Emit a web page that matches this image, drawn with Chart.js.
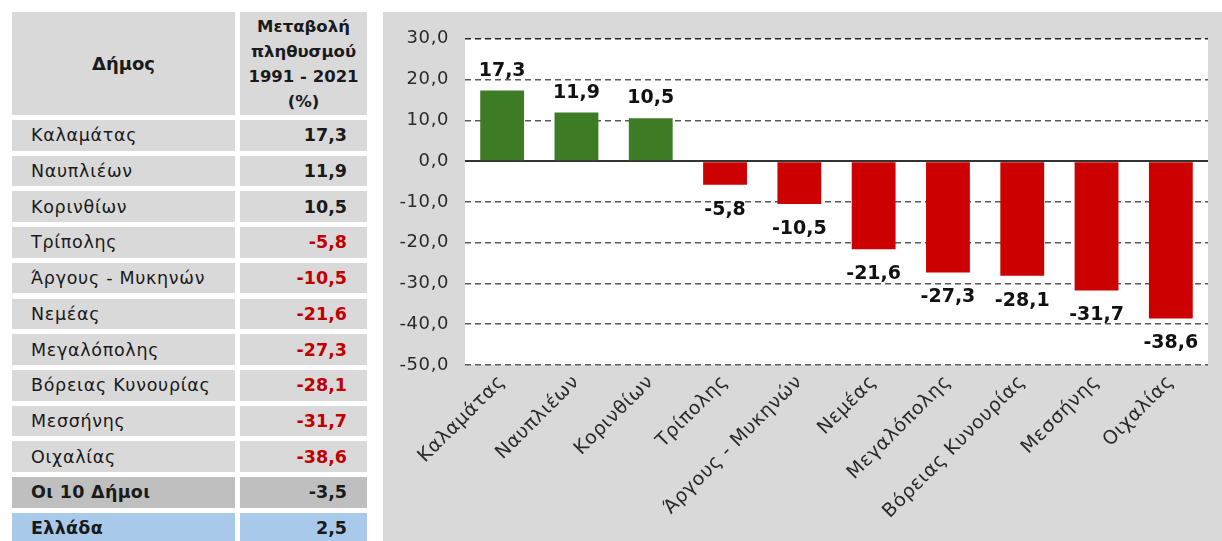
<!DOCTYPE html>
<html><head><meta charset="utf-8">
<script src="https://cdn.jsdelivr.net/npm/chart.js@4.4.1/dist/chart.umd.min.js"></script>
<style>
html,body{margin:0;padding:0;background:#fff;width:1222px;height:541px;overflow:hidden;font-family:'DejaVu Sans',sans-serif;}
.cell{position:absolute;background:#d9d9d9;box-sizing:border-box;display:flex;align-items:center;font-size:17.5px;color:#1a1a1a;white-space:nowrap;letter-spacing:0.7px;}
.lab{padding-left:19px;}
.val{justify-content:flex-end;padding-right:20px;font-weight:bold;letter-spacing:0;}
.hdr{justify-content:center;text-align:center;font-weight:bold;font-size:16.5px;line-height:25px;letter-spacing:0;}
#panel{position:absolute;left:383px;top:12px;width:839px;height:529px;background:#d9d9d9;}
</style></head>
<body>
<div id="table"></div>
<div id="panel"><canvas id="c" width="839" height="529"></canvas></div>
<script>
const categories = ['Καλαμάτας','Ναυπλιέων','Κορινθίων','Τρίπολης','Άργους - Μυκηνών','Νεμέας','Μεγαλόπολης','Βόρειας Κυνουρίας','Μεσσήνης','Οιχαλίας'];
const values = [17.3, 11.9, 10.5, -5.8, -10.5, -21.6, -27.3, -28.1, -31.7, -38.6];
const summaryLabels = ['Οι 10 Δήμοι','Ελλάδα'];
const summaryValues = [-3.5, 2.5];
const headerLabels = ['Δήμος','Μεταβολή<br>πληθυσμού<br>1991 - 2021<br>(%)'];
const yTicks = {min:-50, max:30, step:10};

const fmt = v => v.toFixed(1).replace('.', ',');

// ---- table ----
const tbl = document.getElementById('table');
function cell(cls, left, top, w, h, html, style){
  const d = document.createElement('div');
  d.className = 'cell ' + cls;
  d.style.left = left+'px'; d.style.top = top+'px'; d.style.width = w+'px'; d.style.height = h+'px';
  d.innerHTML = html;
  if (style) Object.assign(d.style, style);
  tbl.appendChild(d);
}
const c1x = 12, c1w = 223, c2x = 240, c2w = 127;
cell('hdr', c1x, 12, c1w, 103, headerLabels[0], {fontSize:'18px'});
cell('hdr', c2x, 12, c2w, 103, headerLabels[1]);
const rowTop = 120, pitch = 35.7, rh = 30.7;
categories.forEach((name, i) => {
  const t = rowTop + pitch*i;
  cell('lab', c1x, t, c1w, rh, name);
  cell('val', c2x, t, c2w, rh, fmt(values[i]), {color: values[i] < 0 ? '#c00000' : '#1a1a1a'});
});
summaryLabels.forEach((name, j) => {
  const t = rowTop + pitch*(categories.length + j);
  const bg = j === 0 ? '#bfbfbf' : '#a9c9eb';
  cell('lab', c1x, t, c1w, rh, name, {background:bg, fontWeight:'bold', letterSpacing:'0.3px'});
  cell('val', c2x, t, c2w, rh, fmt(summaryValues[j]), {background:bg, color:'#1a1a1a'});
});

// ---- chart ----
Chart.defaults.font.family = "'DejaVu Sans', sans-serif";
const plotBg = {
  id:'plotBg',
  beforeDraw(chart){
    const a = chart.chartArea, ctx = chart.ctx;
    ctx.letterSpacing = '0.6px';
    ctx.save(); ctx.fillStyle = '#ffffff';
    ctx.fillRect(a.left, a.top, a.right - a.left, a.bottom - a.top);
    ctx.restore();
  }
};
const valueLabels = {
  id:'valueLabels',
  afterDatasetsDraw(chart){
    const ctx = chart.ctx, meta = chart.getDatasetMeta(0);
    ctx.save();
    ctx.letterSpacing = '0px';
    ctx.font = "bold 19px 'DejaVu Sans', sans-serif";
    ctx.fillStyle = '#111'; ctx.textAlign = 'center'; ctx.textBaseline = 'middle';
    meta.data.forEach((bar, i) => {
      const v = values[i];
      ctx.fillText(fmt(v), bar.x, v >= 0 ? bar.y - 20 : bar.y + 25);
    });
    ctx.restore();
  }
};
new Chart(document.getElementById('c'), {
  type:'bar',
  data:{
    labels: categories,
    datasets:[{
      data: values,
      backgroundColor: values.map(v => v >= 0 ? '#3d7b24' : '#cc0000'),
      borderWidth: 0,
      barPercentage: 0.59,
      categoryPercentage: 1.0
    }]
  },
  options:{
    responsive:false,
    animation:false,
    devicePixelRatio:1,
    layout:{padding:{top:26, right:14, left:0, bottom:0}},
    plugins:{legend:{display:false}, tooltip:{enabled:false}},
    scales:{
      x:{
        grid:{display:false, drawTicks:false},
        border:{display:false},
        ticks:{color:'#2a2a2a', font:{size:19}, maxRotation:45, minRotation:45, autoSkip:false, padding:6},
        afterFit(s){ s.height = 176; }
      },
      y:{
        min: yTicks.min, max: yTicks.max,
        grid:{
          drawTicks:false,
          color: c => c.tick && c.tick.value === 0 ? '#333333' : (c.tick && c.tick.value === yTicks.max ? '#222222' : '#5a5a5a'),
          lineWidth: c => c.tick && c.tick.value === 0 ? 2 : 1.5
        },
        border:{display:false, dash: c => (c.tick && c.tick.value === 0) ? [] : [6,4]},
        ticks:{stepSize: yTicks.step, color:'#2a2a2a', font:{size:18}, padding:16, callback: v => fmt(v)},
        afterFit(s){ s.width = 82; }
      }
    }
  },
  plugins:[plotBg, valueLabels]
});
</script>
</body></html>
